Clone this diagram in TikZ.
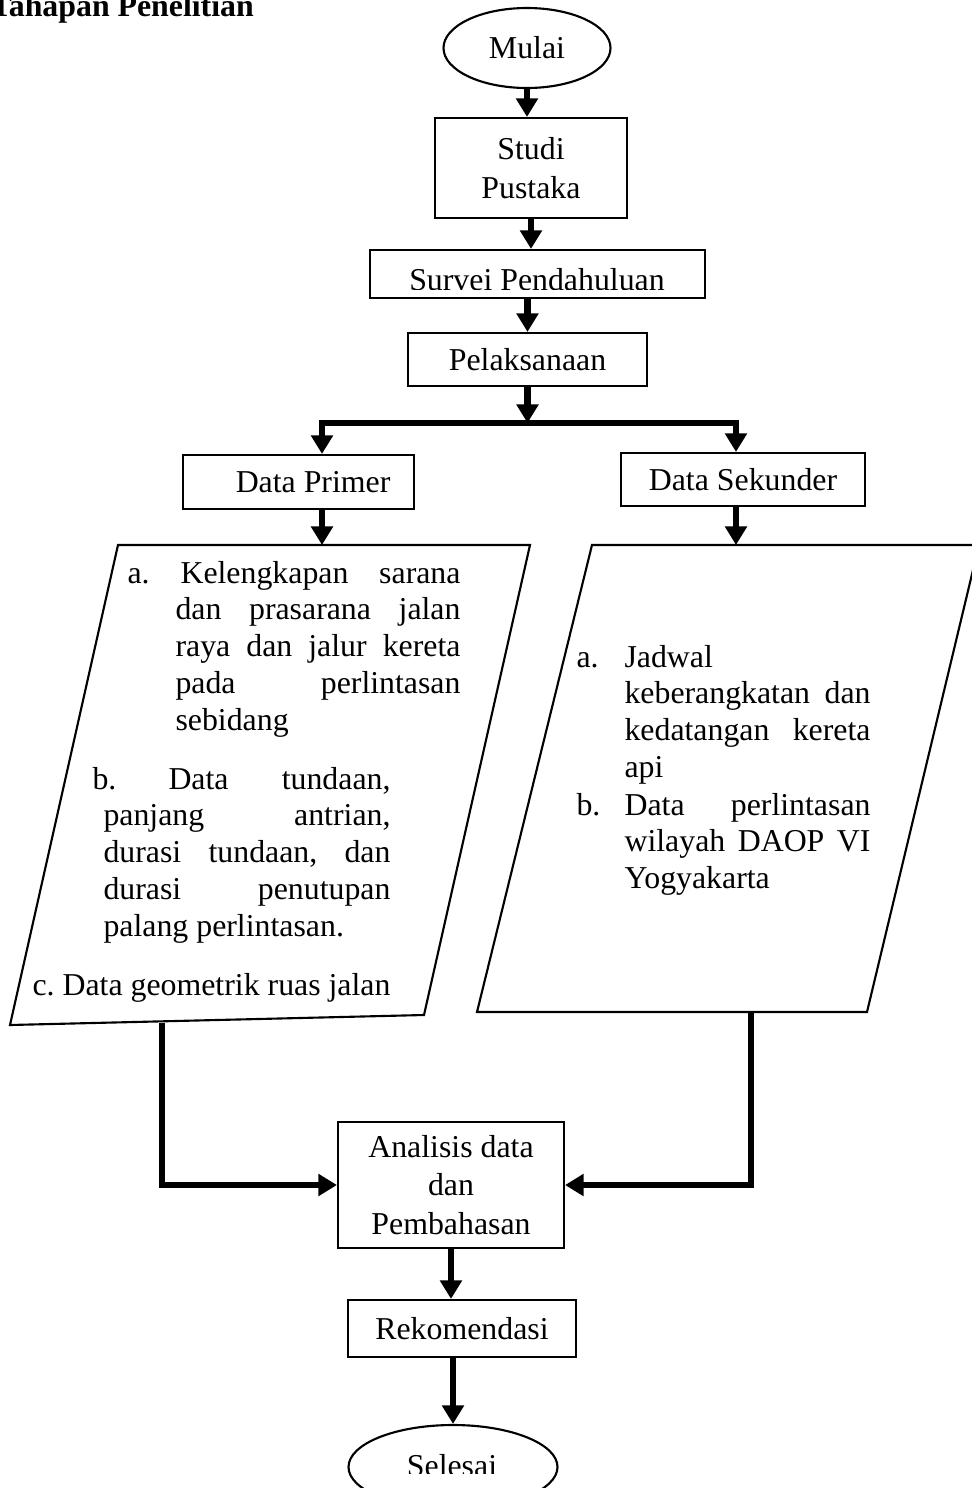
\documentclass[tikz,border=0pt]{standalone}
\usepackage{fontspec}
\setmainfont{Liberation Serif}
\usetikzlibrary{arrows.meta,shapes.geometric}
\newlength{\pxu}
\setlength{\pxu}{0.377pt}
\frenchspacing
\tikzset{
  kotak/.style={draw,line width=0.8pt,inner sep=0pt,align=center,font=\fontsize{12}{14.5}\selectfont},
  oval/.style={draw,ellipse,line width=0.8pt,inner sep=0pt},
  bingkai/.style={line width=0.8pt,line join=miter},
  teks/.style={inner sep=0pt},
  isi/.style={inner sep=0pt,align=justify},
  panah/.style={line width=2.5pt,-{Triangle[width=8pt,length=7pt]}},
  panahdua/.style={line width=2.5pt,{Triangle[width=8pt,length=7pt]}-{Triangle[width=8pt,length=7pt]}}
}
\begin{document}
\begin{tikzpicture}[x=\pxu,y=-\pxu,font=\fontsize{12}{13.9}\selectfont]
\useasboundingbox (0,0) rectangle (971,1488);
\node[teks,anchor=base west,font=\fontsize{12}{13.9}\selectfont\bfseries] (judul) at (-10,16) {Tahapan Penelitian};

\node[oval,minimum width=167*\pxu,minimum height=80*\pxu] (mulai) at (527,48) {Mulai};
\node[kotak,minimum width=192*\pxu,minimum height=100*\pxu] (studi) at (531,168) {Studi\\Pustaka};
\node[kotak,minimum width=335*\pxu,minimum height=48*\pxu] (survei) at (537.5,274) {};
\begin{scope}
  \clip (372,252) rectangle (703,289);
  \node[teks,anchor=base] (surveiteks) at (537,290) {Survei Pendahuluan};
\end{scope}
\node[kotak,minimum width=239*\pxu,minimum height=53*\pxu] (pelak) at (527.5,359.5) {Pelaksanaan};
\node[kotak,minimum width=231*\pxu,minimum height=54*\pxu] (primer) at (298.5,482) {\hspace*{11pt}Data Primer};
\node[kotak,minimum width=244*\pxu,minimum height=53*\pxu] (sekunder) at (743,479.5) {Data Sekunder};

\draw[bingkai] (118,545) -- (530,545) -- (424,1015) -- (10,1025) -- cycle;
\draw[bingkai] (979,545) -- (592,545) -- (477,1012) -- (867,1012) -- cycle;

\node[teks,anchor=base west] (la) at (127,583) {a.};
\node[isi,anchor=base west,text width=285*\pxu] (ta) at (175,583)
  {\hspace*{5\pxu}Kelengkapan sarana\linebreak dan prasarana jalan\linebreak raya dan jalur kereta\linebreak pada perlintasan\linebreak sebidang};
\node[isi,anchor=base west,text width=287*\pxu] (tb) at (103,789)
  {\hspace*{-11\pxu}\makebox[76\pxu][l]{b.}Data tundaan,\linebreak panjang antrian,\linebreak durasi tundaan, dan\linebreak durasi penutupan\linebreak palang perlintasan.};
\node[teks,anchor=base west] (tc) at (32,995) {c. Data geometrik ruas jalan};

\node[teks,anchor=base west] (ka) at (576,667) {a.};
\node[isi,anchor=base west,text width=246*\pxu] (tka) at (624,667)
  {Jadwal\\ keberangkatan dan\linebreak kedatangan kereta\linebreak api};
\node[teks,anchor=base west] (kb) at (576,815) {b.};
\node[isi,anchor=base west,text width=246*\pxu] (tkb) at (624,815)
  {Data perlintasan\linebreak wilayah DAOP VI\linebreak Yogyakarta};

\node[kotak,minimum width=226*\pxu,minimum height=126*\pxu] (analisis) at (451,1185) {Analisis data\\dan\\Pembahasan};
\node[kotak,minimum width=228*\pxu,minimum height=57*\pxu] (rekom) at (462,1328.5) {Rekomendasi};
\node[oval,minimum width=209*\pxu,minimum height=84*\pxu] (selesai) at (453,1467) {};
\begin{scope}
  \clip (340,1430) rectangle (570,1473);
  \node[teks,anchor=base] (selesaiteks) at (452,1476) {Selesai};
\end{scope}

\coordinate (ck) at (322,423);
\coordinate (cn) at (736,423);
\coordinate (kiriatas) at (322,545);
\coordinate (kananatas) at (736,545);
\coordinate (kiribawah) at (162,1023);
\coordinate (kananbawah) at (751,1012);

\draw[panah] (mulai.south) -- (mulai.south |- studi.north);
\draw[panah] (studi.south) -- (studi.south |- survei.north);
\draw[panah] (pelak.north |- survei.south) -- (pelak.north);
\draw[panah] (pelak.south) -- (pelak.south |- ck);
\draw[panahdua] (cn |- sekunder.north) -- (cn) -- (ck) -- (ck |- primer.north);
\draw[panah] (ck |- primer.south) -- (kiriatas);
\draw[panah] (cn |- sekunder.south) -- (kananatas);
\draw[panah] (kiribawah) |- (analisis.west);
\draw[panah] (kananbawah) |- (analisis.east);
\draw[panah] (analisis.south) -- (analisis.south |- rekom.north);
\draw[panah] (selesai.north |- rekom.south) -- (selesai.north);
\end{tikzpicture}
\end{document}
